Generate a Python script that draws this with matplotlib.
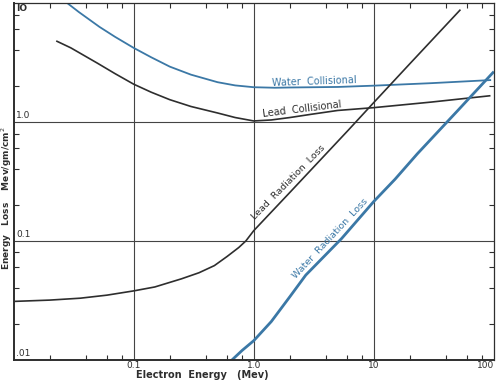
import matplotlib.pyplot as plt
from matplotlib.ticker import LogLocator, NullFormatter

# (Mev, Mev/gm/cm^2)
water_coll_e = [0.028, 0.035, 0.052, 0.07, 0.1, 0.14, 0.2, 0.3, 0.5, 0.7, 1.0,
                1.5, 2.0, 5.0, 10.0, 30.0, 93.0]
water_coll_loss = [10.0, 8.4, 6.3, 5.2, 4.2, 3.5, 2.92, 2.5, 2.16, 2.03, 1.96,
                   1.94, 1.95, 1.97, 2.02, 2.12, 2.25]

lead_coll_e = [0.023, 0.03, 0.05, 0.07, 0.1, 0.14, 0.2, 0.3, 0.5, 0.7, 1.0,
               1.4, 2.0, 3.0, 5.0, 10.0, 30.0, 92.0]
lead_coll_loss = [4.77, 4.2, 3.12, 2.55, 2.08, 1.78, 1.54, 1.35, 1.19, 1.09, 1.02,
                  1.04, 1.09, 1.16, 1.25, 1.32, 1.47, 1.66]

lead_rad_e = [0.01, 0.02, 0.036, 0.06, 0.1, 0.15, 0.25, 0.35, 0.47, 0.6, 0.75,
              0.86, 1.0, 2.0, 6.1, 10.0, 20.0, 52.0]
lead_rad_loss = [0.031, 0.0318, 0.033, 0.035, 0.038, 0.041, 0.048, 0.054, 0.062,
                 0.074, 0.088, 0.1, 0.122, 0.256, 0.85, 1.46, 3.1, 8.7]

water_rad_e = [0.66, 0.8, 1.0, 1.4, 2.0, 2.71, 5.4, 10.0, 15.0, 23.0, 50.0, 98.0]
water_rad_loss = [0.01, 0.012, 0.0145, 0.021, 0.034, 0.0516, 0.105, 0.215, 0.33,
                  0.54, 1.25, 2.6]

x_ticks = [0.1, 1.0, 10.0, 100.0]
x_tick_labels = ["0.1", "1.0", "10", "100"]
y_marks = [10.0, 1.0, 0.1, 0.01]
y_mark_labels = ["IO", "1.0", "0.1", ".01"]

blue = "#3b78a6"
dark = "#2e2e2e"

fig = plt.figure(figsize=(5, 3.8), dpi=100)
ax = fig.add_axes([0.027, 0.053, 0.961, 0.939])
ax.set_xscale("log")
ax.set_yscale("log")
ax.set_xlim(0.01, 100)
ax.set_ylim(0.01, 10)

ax.plot(water_coll_e, water_coll_loss, color=blue, lw=1.3)
ax.plot(lead_coll_e, lead_coll_loss, color=dark, lw=1.2)
ax.plot(lead_rad_e, lead_rad_loss, color=dark, lw=1.2)
ax.plot(water_rad_e, water_rad_loss, color=blue, lw=2.0)

# grid only at the decades
for v in [0.1, 1.0, 10.0]:
    ax.axvline(v, color="#444444", lw=0.8, zorder=0)
for v in [0.1, 1.0]:
    ax.axhline(v, color="#444444", lw=0.8, zorder=0)

ax.xaxis.set_minor_locator(LogLocator(base=10, subs=[2, 4, 6, 8]))
ax.xaxis.set_minor_formatter(NullFormatter())
ax.set_xticks(x_ticks)
ax.set_xticklabels(x_tick_labels, fontsize=6.5, color=dark)
ax.get_xticklabels()[-1].set_horizontalalignment("right")
ax.set_yticks([])
ax.yaxis.set_minor_locator(LogLocator(base=10, subs=[2, 4, 6, 8]))
ax.yaxis.set_minor_formatter(NullFormatter())
ax.tick_params(which="minor", direction="in", length=3.5, width=0.8,
               top=True, right=True, colors=dark)
ax.tick_params(which="major", direction="in", length=0, pad=1, top=True, right=True)

for v, lab in zip(y_marks, y_mark_labels):
    if v == 10.0:
        ax.text(0.006, v * 0.98, lab, transform=ax.get_yaxis_transform(),
                fontsize=6.5, color=dark, ha="left", va="top", fontweight="bold")
    else:
        ax.text(0.006, v * 1.04, lab, transform=ax.get_yaxis_transform(),
                fontsize=6.5, color=dark, ha="left", va="bottom")

for side in ["left", "bottom"]:
    ax.spines[side].set_linewidth(1.4)
    ax.spines[side].set_color(dark)
for side in ["top", "right"]:
    ax.spines[side].set_linewidth(0.9)
    ax.spines[side].set_color(dark)

# curve labels
ax.text(3.2, 2.2, "Water  Collisional", color=blue, fontsize=7,
        rotation=2, ha="center", va="center")
ax.text(2.5, 1.27, "Lead  Collisional", color=dark, fontsize=7,
        rotation=7, ha="center", va="center")
ax.text(1.96, 0.31, "Lead  Radiation  Loss", color=dark, fontsize=6.8,
        rotation=45.5, ha="center", va="center")
ax.text(4.3, 0.105, "Water  Radiation  Loss", color=blue, fontsize=6.8,
        rotation=47, ha="center", va="center")

fig.text(0.404, 0.014, "Electron  Energy   (Mev)", fontsize=7, color=dark,
         ha="center", va="center", fontweight="bold")
fig.text(0.014, 0.479, "Energy   Loss    Mev/gm/cm$^2$", fontsize=6.5, color=dark,
         ha="center", va="center", rotation=90, fontweight="bold")

fig.savefig("out.png", dpi=100)
